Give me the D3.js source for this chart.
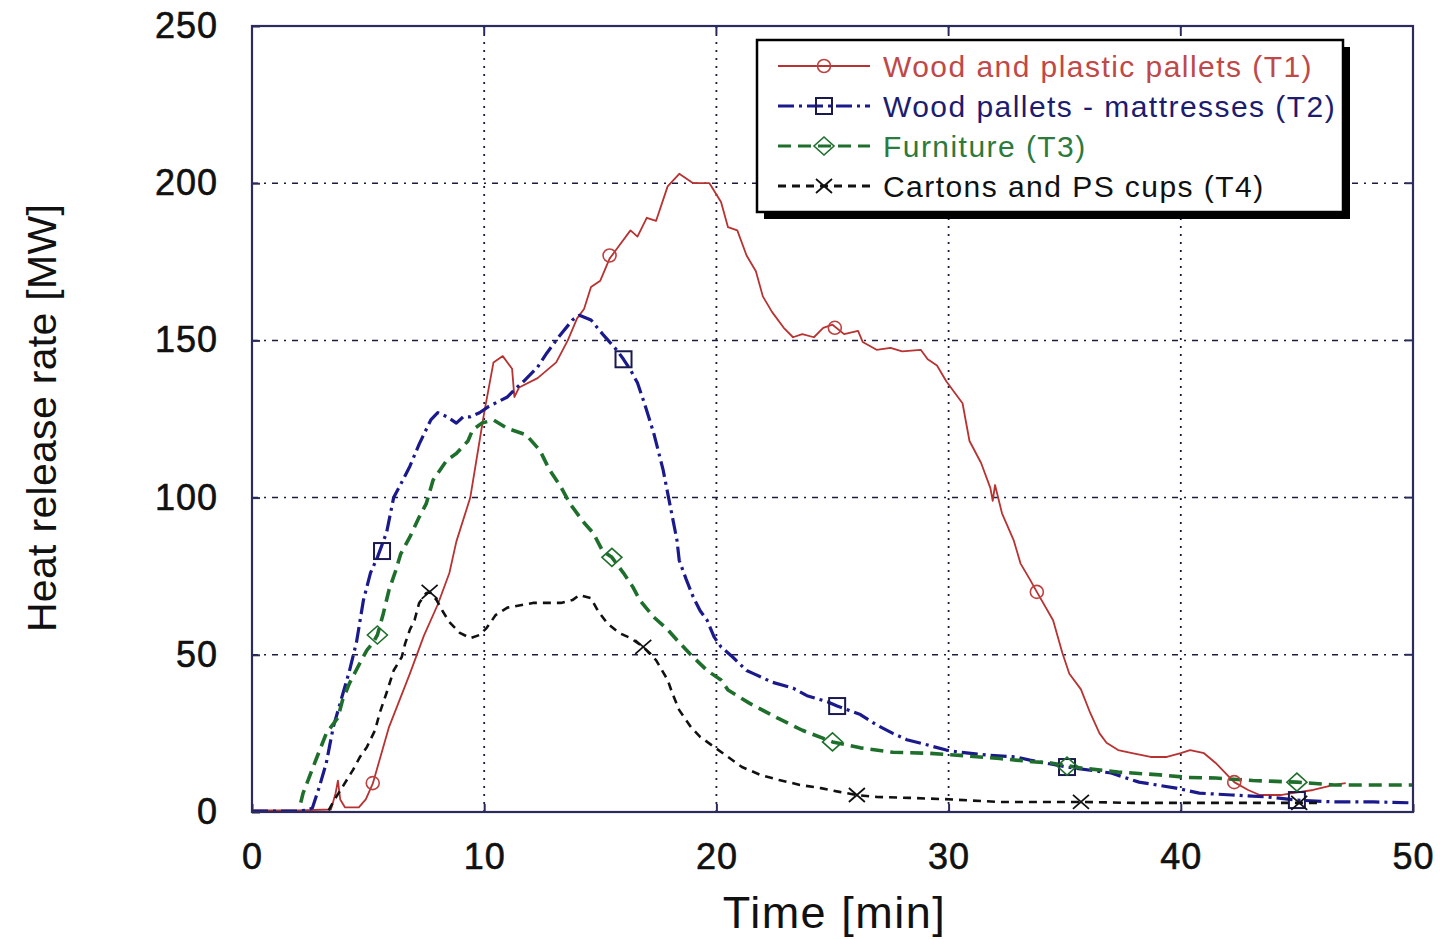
<!DOCTYPE html>
<html><head><meta charset="utf-8">
<script src="https://cdn.jsdelivr.net/npm/d3@7"></script>
<style>body{margin:0;background:#fff;} svg{display:block;}</style>
</head><body>
<svg id="c" width="1440" height="939"></svg>
<script>
// ---- data (time [min], HRR [MW]) ----
const seriesNames = ["Wood and plastic pallets (T1)","Wood pallets - mattresses (T2)","Furniture (T3)","Cartons and PS cups (T4)"];
const xTicks = [0,10,20,30,40,50];
const yTicks = [0,50,100,150,200,250];

const t1 = [[0,0.5],[2.0,0.5],[3.4,0.8],[3.6,6],[3.7,10],[3.8,4],[4.0,1.5],[4.6,1.5],[4.9,4],[5.2,9],[5.9,27],[6.8,44],[7.4,56],[8.0,66],[8.5,76],[8.8,86],[9.4,100],[9.8,118],[10.0,127],[10.4,143],[10.8,145],[11.2,141],[11.3,132],[11.5,135],[12.3,138],[13.1,143],[13.6,150],[14.0,157],[14.3,160],[14.6,167],[15.0,169],[15.4,176],[15.8,180],[16.3,185],[16.6,183],[17.0,189],[17.4,188],[17.9,199],[18.4,203],[19.0,200],[19.7,200],[20.2,194],[20.5,186],[20.9,185],[21.3,177],[21.7,172],[22.0,164],[22.4,159],[22.9,154],[23.3,151],[23.7,152],[24.2,151],[24.6,154],[25.0,155],[25.5,152],[26.1,153],[26.3,149.5],[26.9,147],[27.5,147.6],[28.0,146.5],[28.8,147],[29.1,144],[29.5,142],[29.9,137],[30.2,134],[30.6,130],[30.9,118],[31.4,111],[31.8,103],[31.9,99],[32.0,104],[32.3,95],[32.8,86.5],[33.1,79],[33.5,74],[33.8,70],[34.5,61],[34.9,50.6],[35.2,44],[35.7,39],[36.1,31.5],[36.5,25],[36.8,22],[37.3,19.7],[37.9,18.7],[38.7,17.5],[39.4,17.5],[40.0,18.7],[40.4,19.7],[41.0,18.7],[41.5,15.6],[42.1,11],[42.3,9.5],[42.9,7],[43.4,5.4],[44.3,5.4],[44.8,6],[45.7,7],[46.6,8.6],[47.1,9.2]];
const t2 = [[0,0.3],[2.0,0.3],[2.4,0.6],[2.6,1.3],[2.9,8],[3.2,15.6],[3.5,27],[3.8,34.7],[4.2,45],[4.5,54],[4.8,67.4],[5.1,76],[5.4,81],[5.8,89],[6.1,100],[6.5,105.6],[6.8,110],[7.2,117],[7.7,124.7],[8.0,127],[8.4,125.7],[8.8,123.7],[9.1,125.7],[9.4,125.7],[9.8,127],[10.2,129],[11.0,132],[11.4,135],[11.7,137],[12.3,141.5],[12.7,146],[13.2,151],[13.8,156.5],[14.1,158],[14.6,156.5],[15.1,152],[15.7,147],[16.0,144],[16.3,140.6],[16.6,136.5],[16.9,130],[17.3,120.5],[17.7,109],[17.9,101.5],[18.1,94],[18.3,86.5],[18.4,80],[18.7,74],[19.0,68.4],[19.3,64],[19.6,61],[19.9,55.7],[20.2,52.5],[20.7,49.3],[21.3,45],[21.6,44],[22.4,41.3],[23.3,39.4],[23.9,37],[24.8,35],[25.2,33.7],[26.2,31],[26.9,27.7],[27.6,25],[28.2,23],[29.1,21.3],[29.9,19.7],[30.5,19],[31.8,18],[32.9,17.5],[33.5,16.5],[35.1,14.3],[37.0,12.4],[38.2,9.5],[39.8,7.6],[40.8,6],[42.2,5.4],[43.7,4.8],[45.0,3.8],[46.6,3.2],[48.3,3.2],[50.0,2.9]];
const t3 = [[2.1,3],[2.2,6],[2.8,17.5],[3.2,25],[3.7,30],[3.9,35.6],[4.2,41],[4.65,47.4],[4.95,51.5],[5.2,53.7],[5.4,56.3],[5.65,63],[5.9,70.6],[6.2,77],[6.4,82],[6.8,87.5],[7.2,93.8],[7.5,98],[7.8,105.6],[8.1,108.8],[8.4,112],[8.8,114],[9.3,118],[9.5,121.5],[9.9,123.7],[10.4,124.7],[11.0,122],[11.8,120],[12.4,115],[12.8,109],[13.3,103.4],[13.7,98],[14.3,92],[14.7,88.7],[15.1,83],[15.5,81],[16.0,76],[16.4,71.6],[16.7,67.4],[17.3,62],[17.9,58],[18.3,54.7],[18.9,50],[19.6,45],[20.2,42],[20.5,38.8],[21.4,34.7],[22.6,30],[23.7,26],[25.0,22.3],[26.2,20.4],[27.6,19],[29.1,18.7],[30.5,18],[32.2,17],[33.6,16],[34.4,15.6],[35.7,14],[37.3,12.7],[39.1,11.8],[40.3,11],[41.5,10.8],[43.1,10],[45.0,9.5],[46.6,8.6],[48.7,8.6],[50.0,8.6]];
const t4 = [[3.3,0.5],[3.6,4.5],[3.9,8],[4.35,13.4],[4.65,17.5],[4.95,20.7],[5.3,26],[5.5,31.5],[5.8,38],[6.1,45],[6.45,49.3],[6.6,53.7],[6.8,58],[7.0,61],[7.2,66.5],[7.5,69.6],[7.65,70],[7.95,67.4],[8.2,64],[8.5,60.4],[8.95,57],[9.4,55.3],[9.8,56.3],[10.1,58.5],[10.5,62.7],[11.0,65],[12.1,66.5],[13.3,66.5],[13.8,67.4],[14.1,69],[14.6,68],[14.9,64],[15.3,60],[15.8,57],[16.3,55.3],[16.85,52.5],[17.4,48.3],[17.9,42],[18.1,37.8],[18.4,32.4],[18.9,27],[19.3,23.9],[19.9,20.7],[20.5,17.5],[21.1,14.3],[21.9,11.8],[22.7,10.2],[23.6,8.6],[24.5,7.6],[25.3,6.4],[26.05,5.4],[26.9,4.8],[28.3,4.5],[29.8,4.1],[32.2,3.2],[35.7,3.2],[37.9,2.9],[40.0,2.9],[45.1,2.9],[46.0,2.9]];

const m1 = [[5.2,9.2],[15.4,177],[25.1,154],[33.8,70],[42.3,9.5]];
const m2 = [[5.6,83],[16.0,144],[25.2,33.7],[35.1,14.3],[45.0,3.8]];
const m3 = [[5.4,56.3],[15.5,81],[25.0,22.3],[35.1,14.6],[45.0,9.5]];
const m4 = [[7.65,70],[16.85,52.5],[26.05,5.4],[35.7,3.2],[45.1,2.9]];

// ---- layout / styles ----
const svg = d3.select("#c");
const X0=252, X1=1413, Y0=812, Y1=26;
const x = d3.scaleLinear().domain([0,50]).range([X0,X1]);
const y = d3.scaleLinear().domain([0,250]).range([Y0,Y1]);
const font = "'Liberation Sans', Arial, sans-serif";

const styles = [
  {color:"#b83232", text:"#c04848", width:1.8, dash:null, marker:"circle", mcolor:"#c04040"},
  {color:"#1a1a8c", text:"#1c1c70", width:3.2, dash:"16,5,3,5", marker:"square", mcolor:"#1a1a50"},
  {color:"#1f6f2c", text:"#2c7a3c", width:3.6, dash:"13,7", marker:"diamond", mcolor:"#1f6f2c"},
  {color:"#111111", text:"#111111", width:2.6, dash:"8,6", marker:"x", mcolor:"#111111"}
];
const data = [t1,t2,t3,t4];
const marks = [m1,m2,m3,m4];

// grid
const grid = svg.append("g");
grid.selectAll("line.h").data(yTicks.slice(1,-1)).join("line")
  .attr("x1",X0).attr("x2",X1).attr("y1",d=>y(d)).attr("y2",d=>y(d))
  .attr("stroke","#1c1c3c").attr("stroke-width",1.5).attr("stroke-dasharray","6,6,2,6");
grid.selectAll("line.v").data(xTicks.slice(1,-1)).join("line")
  .attr("y1",Y0).attr("y2",Y1).attr("x1",d=>x(d)).attr("x2",d=>x(d))
  .attr("stroke","#1c1c3c").attr("stroke-width",1.8).attr("stroke-dasharray","2,6");

// axes via d3 (ticks inward)
const xAxis = svg.append("g").attr("transform",`translate(0,${Y0})`)
  .call(d3.axisBottom(x).tickValues(xTicks).tickSize(-8).tickPadding(30));
const yAxis = svg.append("g").attr("transform",`translate(${X0},0)`)
  .call(d3.axisLeft(y).tickValues(yTicks).tickSize(-8).tickPadding(34));
[xAxis,yAxis].forEach(a=>{
  a.select(".domain").remove();
  a.selectAll(".tick line").attr("stroke","#2b2b5e").attr("stroke-width",2);
  a.selectAll("text").attr("font-family",font).attr("font-size",36).attr("fill","#111")
   .attr("stroke","#111").attr("stroke-width",0.6)
   .attr("font-weight","normal").attr("letter-spacing","1px");
});
xAxis.selectAll("text").attr("dy","0.75em");
// top/right ticks
svg.append("g").selectAll("line").data(xTicks.slice(1,-1)).join("line")
  .attr("x1",d=>x(d)).attr("x2",d=>x(d)).attr("y1",Y1).attr("y2",Y1+8).attr("stroke","#2b2b5e").attr("stroke-width",2);
svg.append("g").selectAll("line").data(yTicks.slice(1,-1)).join("line")
  .attr("y1",d=>y(d)).attr("y2",d=>y(d)).attr("x1",X1).attr("x2",X1-8).attr("stroke","#2b2b5e").attr("stroke-width",2);

// series
const line = d3.line().x(d=>x(d[0])).y(d=>y(d[1]));
const plot = svg.append("g");
data.forEach((d,i)=>{
  const s = styles[i];
  plot.append("path").datum(d).attr("d",line).attr("fill","none")
    .attr("stroke",s.color).attr("stroke-width",s.width)
    .attr("stroke-dasharray",s.dash).attr("stroke-linejoin","round");
});

function drawMarker(g, type, cx, cy, color){
  if(type==="circle") g.append("circle").attr("cx",cx).attr("cy",cy).attr("r",6.5).attr("fill","none").attr("stroke",color).attr("stroke-width",1.6);
  else if(type==="square") g.append("rect").attr("x",cx-8).attr("y",cy-8).attr("width",16).attr("height",16).attr("fill","none").attr("stroke",color).attr("stroke-width",2);
  else if(type==="diamond") g.append("path").attr("d",`M${cx},${cy-9}L${cx+10},${cy}L${cx},${cy+9}L${cx-10},${cy}Z`).attr("fill","none").attr("stroke",color).attr("stroke-width",1.6);
  else if(type==="x") g.append("path").attr("d",`M${cx-8},${cy-7}L${cx+8},${cy+7}M${cx-8},${cy+7}L${cx+8},${cy-7}`).attr("stroke",color).attr("stroke-width",1.8);
}
marks.forEach((ms,i)=>{
  ms.forEach(p=>drawMarker(plot, styles[i].marker, x(p[0]), y(p[1]), styles[i].mcolor));
});

// frame
svg.append("rect").attr("x",X0).attr("y",Y1).attr("width",X1-X0).attr("height",Y0-Y1)
  .attr("fill","none").attr("stroke","#2b2b5e").attr("stroke-width",2.2);

// axis titles
svg.append("text").attr("x",(X0+X1)/2+2).attr("y",928).attr("text-anchor","middle")
  .attr("font-family",font).attr("font-size",45).attr("fill","#111").attr("letter-spacing","1.5px").text("Time [min]");
svg.append("text").attr("transform","translate(56,418) rotate(-90)").attr("text-anchor","middle")
  .attr("font-family",font).attr("font-size",41).attr("fill","#111").attr("letter-spacing","0.3px").text("Heat release rate [MW]");

// legend
const L = {x:757, y:40, w:586, h:172};
const lg = svg.append("g");
lg.append("rect").attr("x",L.x+7).attr("y",L.y+7).attr("width",L.w).attr("height",L.h).attr("fill","#000");
lg.append("rect").attr("x",L.x).attr("y",L.y).attr("width",L.w).attr("height",L.h).attr("fill","#fff").attr("stroke","#000").attr("stroke-width",2.5);
seriesNames.forEach((name,i)=>{
  const cy = 66 + i*40;
  const s = styles[i];
  lg.append("line").attr("x1",778).attr("x2",870).attr("y1",cy).attr("y2",cy)
    .attr("stroke",s.color).attr("stroke-width",i===0?1.8:3).attr("stroke-dasharray",s.dash);
  drawMarker(lg, s.marker, 824, cy, s.mcolor);
  lg.append("text").attr("x",883).attr("y",cy+11).attr("font-family",font).attr("font-size",30)
    .attr("letter-spacing","1.45px").attr("fill",s.text).text(name);
});
</script>
</body></html>
